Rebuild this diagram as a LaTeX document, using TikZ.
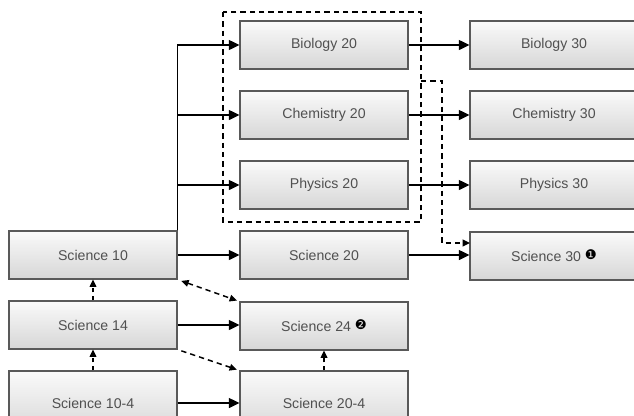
\documentclass[tikz,border=0pt]{standalone}
\usepackage{fontspec}
\setmainfont{Liberation Sans}
\newfontfamily\puce{DejaVu Sans}
\usetikzlibrary{arrows.meta}
\definecolor{bord}{HTML}{595959}
\definecolor{texte}{HTML}{505050}

\begin{document}
\begin{tikzpicture}[x=0.75pt, y=-0.75pt,
    cours/.style={shape=rectangle, draw=bord, line width=0.8pt, top color=gray!4, bottom color=gray!32,
        minimum width=126pt, minimum height=36pt, inner sep=0pt, text=texte, font=\fontsize{10.6}{12}\selectfont},
    fleche/.style={line width=1.1pt, -{Triangle[length=8pt,width=7.5pt]}},
    pointille/.style={line width=1.1pt, dash pattern=on 4pt off 3pt, -{Triangle[length=5.5pt,width=5pt]}}]
    \useasboundingbox (0,0) rectangle (634,415);

    \node [cours] (bio20) at (324,45) {Biology 20};
    \node [cours] (chi20) at (324,115) {Chemistry 20};
    \node [cours] (phy20) at (324,185) {Physics 20};
    \node [cours] (sci20) at (324,255) {Science 20};
    \node [cours] (sci24) at (324,326) {Science 24 \raisebox{1.5pt}{\puce\fontsize{10}{10}\selectfont\color{black}❷}};
    \node [cours, minimum height=48pt] (sci204) at (324,403) {Science 20-4};

    \node [cours] (sci10) at (93,255) {Science 10};
    \node [cours] (sci14) at (93,325) {Science 14};
    \node [cours, minimum height=48pt] (sci104) at (93,403) {Science 10-4};

    \node [cours] (bio30) at (554,45) {Biology 30};
    \node [cours] (chi30) at (554,115) {Chemistry 30};
    \node [cours] (phy30) at (554,185) {Physics 30};
    \node [cours] (sci30) at (554,256) {Science 30 \raisebox{1.5pt}{\puce\fontsize{10}{10}\selectfont\color{black}❶}};

    \draw [line width=1.1pt, dash pattern=on 4pt off 3pt] (223,12) rectangle (421,222);
    \coordinate (depart) at (421,81);
    \coordinate (entree) at (470,243);

    \draw [fleche] (sci10.north east) |- (bio20.west);
    \draw [fleche] (sci10.north east) |- (chi20.west);
    \draw [fleche] (sci10.north east) |- (phy20.west);
    \draw [fleche] (sci10) -- (sci20);
    \draw [fleche] (sci14.east) -- (sci24.west |- sci14);
    \draw [fleche] (sci104.east |- sci104) -- (sci204.west |- sci204);

    \draw [fleche] (bio20) -- (bio30);
    \draw [fleche] (chi20) -- (chi30);
    \draw [fleche] (phy20) -- (phy30);
    \draw [fleche] (sci20.east) -- (sci30.west |- sci20);

    \draw [pointille] (depart) -- ++(21,0) |- (entree);
    \draw [pointille, {Triangle[length=5.5pt,width=5pt]}-{Triangle[length=5.5pt,width=5pt]}, shorten <=3pt, shorten >=2pt]
        (sci10.south east) -- (sci24.north west);
    \draw [pointille, shorten <=3pt, shorten >=2pt] (sci14.south east) -- (sci204.north west);
    \draw [pointille, dash pattern=on 3pt off 3pt] (sci14) -- (sci10);
    \draw [pointille, dash pattern=on 3pt off 3pt] (sci104.north) -- (sci14.south);
    \draw [pointille, dash pattern=on 3pt off 3pt] (sci204.north) -- (sci24.south);
\end{tikzpicture}
\end{document}
